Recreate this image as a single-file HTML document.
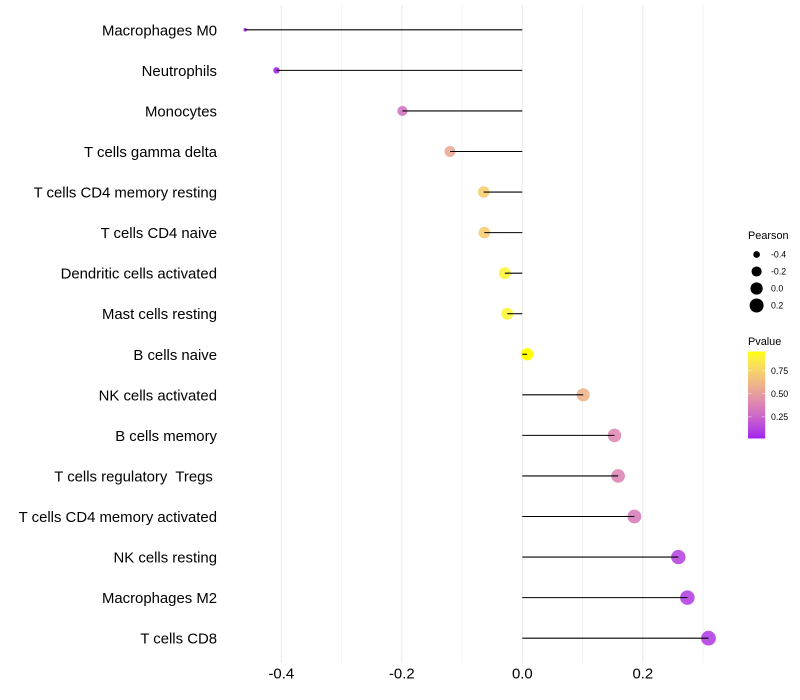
<!DOCTYPE html>
<html lang="en">
<head>
<meta charset="utf-8">
<title>Immune cell correlation lollipop chart</title>
<style>
html,body{margin:0;padding:0;background:#fff;width:800px;height:700px;overflow:hidden}
svg{display:block}
text{font-family:"Liberation Sans",sans-serif;white-space:pre}
</style>
</head>
<body>
<svg id="chart" xmlns="http://www.w3.org/2000/svg" width="800" height="700" viewBox="0 0 800 700">
<rect x="0" y="0" width="800" height="700" fill="#ffffff"/>
<g id="grid"></g>
<g id="yLabels"></g>
<g id="xLabels"></g>
<g id="points"></g>
<g id="stems"></g>
<g id="sizeLegend"></g>
<g id="colorLegend"></g>
</svg>
<script>
const categories = ["Macrophages M0","Neutrophils","Monocytes","T cells gamma delta","T cells CD4 memory resting","T cells CD4 naive","Dendritic cells activated","Mast cells resting","B cells naive","NK cells activated","B cells memory","T cells regulatory  Tregs ","T cells CD4 memory activated","NK cells resting","Macrophages M2","T cells CD8"];
const pearsonValues = [-0.46,-0.408,-0.199,-0.12,-0.064,-0.063,-0.029,-0.025,0.008,0.101,0.153,0.159,0.186,0.259,0.274,0.309];
const pValues = [0.02,0.02,0.3,0.55,0.72,0.72,0.9,0.91,0.957,0.6,0.4,0.38,0.34,0.12,0.1,0.09];
const xTicks = [-0.4,-0.2,0,0.2];
const xMinorTicks = [-0.3,-0.1,0.1,0.3];
const xTickLabels = ["-0.4","-0.2","0.0","0.2"];
const sizeLegendValues = [-0.4,-0.2,0,0.2];
const sizeLegendLabels = ["-0.4","-0.2","0.0","0.2"];
const colorLegendTicks = [0.75,0.5,0.25];
const colorLegendLabels = ["0.75","0.50","0.25"];

const NS = "http://www.w3.org/2000/svg";
function make(parent, tag, attrs, text) {
  const el = document.createElementNS(NS, tag);
  for (const k in attrs) el.setAttribute(k, attrs[k]);
  if (text !== undefined) el.textContent = text;
  parent.appendChild(el);
  return el;
}
/* axis functions */
function xScale(v) { return 522.3 + v * 602.5; }
function yScale(i) { return 29.8 + i * (638.2 - 29.8) / 15; }
function rScale(v) {
  const lo = -0.46, hi = 0.309;
  const t = Math.max(0, Math.min(1, (v - lo) / (hi - lo)));
  return 1.8 + (7.4 - 1.8) * Math.sqrt(t);
}
/* colour scale: Lab interpolation purple -> yellow */
function toLab(rgb) {
  const l = rgb.map(c => { c /= 255; return c > 0.04045 ? Math.pow((c + 0.055) / 1.055, 2.4) : c / 12.92; });
  const X = (0.4124 * l[0] + 0.3576 * l[1] + 0.1805 * l[2]) / 0.95047;
  const Y = 0.2126 * l[0] + 0.7152 * l[1] + 0.0722 * l[2];
  const Z = (0.0193 * l[0] + 0.1192 * l[1] + 0.9505 * l[2]) / 1.08883;
  const f = t => t > 0.008856 ? Math.cbrt(t) : 7.787 * t + 16 / 116;
  return [116 * f(Y) - 16, 500 * (f(X) - f(Y)), 200 * (f(Y) - f(Z))];
}
function fromLab(lab) {
  const fy = (lab[0] + 16) / 116, fx = lab[1] / 500 + fy, fz = fy - lab[2] / 200;
  const g = t => t * t * t > 0.008856 ? t * t * t : (t - 16 / 116) / 7.787;
  const X = g(fx) * 0.95047, Y = g(fy), Z = g(fz) * 1.08883;
  const lin = [3.2406 * X - 1.5372 * Y - 0.4986 * Z, -0.9689 * X + 1.8758 * Y + 0.0415 * Z, 0.0557 * X - 0.204 * Y + 1.057 * Z];
  return lin.map(c => {
    c = Math.max(0, Math.min(1, c));
    c = c > 0.0031308 ? 1.055 * Math.pow(c, 1 / 2.4) - 0.055 : 12.92 * c;
    return Math.round(c * 255);
  });
}
const labLow = toLab([160, 32, 240]), labHigh = toLab([255, 255, 0]);
const pLow = 0.016, pHigh = 0.957;
function colorScale(p) {
  const t = Math.max(0, Math.min(1, (p - pLow) / (pHigh - pLow)));
  const c = fromLab(labLow.map((a, i) => a + (labHigh[i] - a) * t));
  return "rgb(" + c.join(",") + ")";
}

/* grid */
const gridG = document.getElementById("grid");
xMinorTicks.forEach(v => {
  const l = make(gridG, "line", {x1: xScale(v), x2: xScale(v), y1: 5, y2: 663, stroke: "#ebebeb", "stroke-width": 0.55});
  
  
});
xTicks.forEach(v => {
  const l = make(gridG, "line", {x1: xScale(v), x2: xScale(v), y1: 5, y2: 663, stroke: "#ebebeb", "stroke-width": 1.07});
  
  
});

/* axis labels */
const yG = document.getElementById("yLabels");
categories.forEach((c, i) => {
  const t = make(yG, "text", {x: 217, y: yScale(i) + 5.5, "text-anchor": "end", "font-size": 14.9, fill: "#000"}, c);
  
  
});
const xG = document.getElementById("xLabels");
xTicks.forEach((v, i) => {
  const t = make(xG, "text", {x: xScale(v), y: 678.5, "text-anchor": "middle", "font-size": 14.9, fill: "#000"}, xTickLabels[i]);
  
  
});

/* points then stems */
const pG = document.getElementById("points");
const sG = document.getElementById("stems");
pearsonValues.forEach((v, i) => {
  const opacity = pValues[i] >= pHigh ? 1 : 0.88;
  const c = make(pG, "circle", {cx: xScale(v), cy: yScale(i), r: rScale(v), fill: colorScale(pValues[i]), "fill-opacity": opacity});
  
  
  const l = make(sG, "line", {x1: xScale(0), x2: xScale(v), y1: yScale(i), y2: yScale(i), stroke: "#000", "stroke-width": 1.07});
  
  
});

/* size legend */
const slG = document.getElementById("sizeLegend");
const slTitle = make(slG, "text", {x: 748, y: 239, "font-size": 10.9, fill: "#000"}, "Pearson");


sizeLegendValues.forEach((v, i) => {
  const cy = 254.5 + i * 17;
  const c = make(slG, "circle", {cx: 756.6, cy: cy, r: rScale(v), fill: "#000"});
  
  
  const t = make(slG, "text", {x: 771, y: cy + 3.2, "font-size": 8.8, fill: "#000"}, sizeLegendLabels[i]);
  
  
});

/* colour legend */
const clG = document.getElementById("colorLegend");
const clTitle = make(clG, "text", {x: 748, y: 345, "font-size": 10.9, fill: "#000"}, "Pvalue");


const barTop = 351.5, barBottom = 438.5, barLeft = 748, barRight = 765.2;
function legendY(p) { return barBottom + (p - pLow) / (pHigh - pLow) * (barTop - barBottom); }
const defs = make(clG, "defs", {});
const grad = make(defs, "linearGradient", {id: "pvalueGradient", x1: 0, y1: 1, x2: 0, y2: 0});
for (let s = 0; s <= 20; s++) {
  make(grad, "stop", {offset: s / 20, "stop-color": colorScale(pLow + (pHigh - pLow) * s / 20)});
}
const bar = make(clG, "rect", {x: barLeft, y: barTop, width: barRight - barLeft, height: barBottom - barTop, fill: "url(#pvalueGradient)"});


colorLegendTicks.forEach((p, i) => {
  const y = legendY(p);
  const a = make(clG, "line", {x1: barLeft, x2: barLeft + 3.4, y1: y, y2: y, stroke: "#fff", "stroke-opacity": 0.75, "stroke-width": 0.6});
  
  
  const b = make(clG, "line", {x1: barRight - 3.4, x2: barRight, y1: y, y2: y, stroke: "#fff", "stroke-opacity": 0.75, "stroke-width": 0.6});
  
  
  const t = make(clG, "text", {x: 771, y: y + 3.2, "font-size": 8.8, fill: "#000"}, colorLegendLabels[i]);
  
  
});
</script>
</body>
</html>
